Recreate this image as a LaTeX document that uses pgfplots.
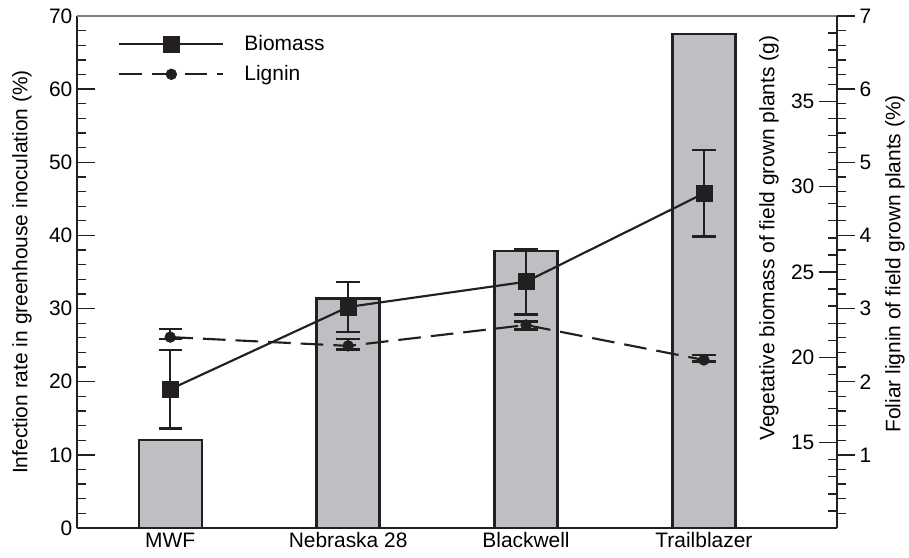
\documentclass[border=0pt]{standalone}
\usepackage{fontspec}
\setmainfont{Liberation Sans}
\usepackage{pgfplots}
\pgfplotsset{compat=1.18}
\definecolor{barfill}{RGB}{190,191,195}
\definecolor{ink}{RGB}{35,31,32}
\begin{document}
\begin{tikzpicture}
\pgfplotsset{
  common/.style={
    width=570pt, height=384pt, scale only axis,
    xmin=-0.524, xmax=3.748,
    font=\fontsize{15.7}{18}\selectfont,
    tick label style={font=\fontsize{15.7}{18}\selectfont},
    label style={font=\fontsize{15.7}{18}\selectfont},
    /pgf/number format/assume math mode=true,
    major tick length=13.5pt, minor tick length=6.75pt,
    every tick/.style={ink, line width=1pt},
    axis line style={ink, line width=1.1pt},
    clip=false,
  }
}
\begin{axis}[common,
  axis x line*=bottom, axis y line*=left,
  ymin=0, ymax=70, ytick={0,10,...,70}, minor ytick={2,4,...,68},
  tick align=inside,
  xtick={0,1,2,3}, xticklabels={MWF,Nebraska 28,Blackwell,Trailblazer},
  xtick style={draw=none},
  ylabel={Infection rate in greenhouse inoculation (\%)},
  ylabel style={at={(axis description cs:-0.0724,0.5)}, anchor=center},
]
\addplot[ybar, bar width=47.25pt, fill=barfill, draw=ink, line width=1.8pt] coordinates {(0,12.0) (1,31.4) (2,37.9) (3,67.5)};
\draw[gray, line width=0.9pt] (rel axis cs:0,1) -- (rel axis cs:1,1);
\end{axis}
\begin{axis}[common,
  axis x line=none, axis y line*=right,
  ymin=10, ymax=40, ytick={15,20,...,35}, minor ytick={11,...,39},
  tick align=inside,
  yticklabel style={anchor=east, xshift=-13.5pt},
  ylabel={Vegetative biomass of field grown plants (g)},
  ylabel style={at={(axis description cs:0.9105,0.566)}, anchor=center},
]
\addplot[ink, line width=1.6pt, mark=square*, mark size=6pt, mark options={solid, line width=0.5pt},
  error bars/.cd, y dir=both, y explicit,
  error bar style={line width=1.8pt, solid},
  error mark options={rotate=90, mark size=8.75pt, line width=1.8pt}]
  coordinates {(0,18.13) +- (0,2.3) (1,22.95) +- (0,1.45) (2,24.43) +- (0,1.92) (3,29.61) +- (0,2.54)};
\end{axis}
\begin{axis}[common,
  axis x line=none, axis y line*=right,
  ymin=0, ymax=7, ytick={1,...,7}, minor ytick={0.2,0.4,...,6.8},
  tick align=outside,
  ylabel={Foliar lignin of field grown plants (\%)},
  ylabel style={at={(axis description cs:1.0763,0.516)}, anchor=center},
  legend style={draw=none, fill=none, at={(axis description cs:0.054,0.965)}, anchor=north west,
    inner sep=0pt, row sep=7.75pt, nodes={inner sep=1pt}},
  legend cell align=left,
  legend image code/.code={\draw[mark repeat=2,mark phase=2,#1] plot coordinates {(0pt,0pt) (39pt,0pt) (78pt,0pt)}; \path (92pt,0pt);},
]
\addlegendimage{ink, line width=1.6pt, mark=square*, mark size=6pt, mark options={solid, line width=0.5pt}}
\addlegendentry{Biomass}
\addplot[ink, line width=1.6pt, dash pattern=on 17pt off 7.5pt, mark=*, mark size=4pt, mark options={solid, line width=0.5pt},
  error bars/.cd, y dir=both, y explicit,
  error bar style={line width=1.8pt, solid},
  error mark options={rotate=90, mark size=8.75pt, line width=1.8pt}]
  coordinates {(0,2.61) += (0,0.11) -= (0,0.03) (1,2.49) += (0,0.095) -= (0,0.05) (2,2.775) += (0,0.05) -= (0,0.06) (3,2.297) += (0,0.07) -= (0,0.02)};
\addlegendentry{Lignin}
\end{axis}
\pgfresetboundingbox
\path[use as bounding box] (-57.75pt,-21.75pt) rectangle (624pt,396pt);
\end{tikzpicture}
\end{document}
